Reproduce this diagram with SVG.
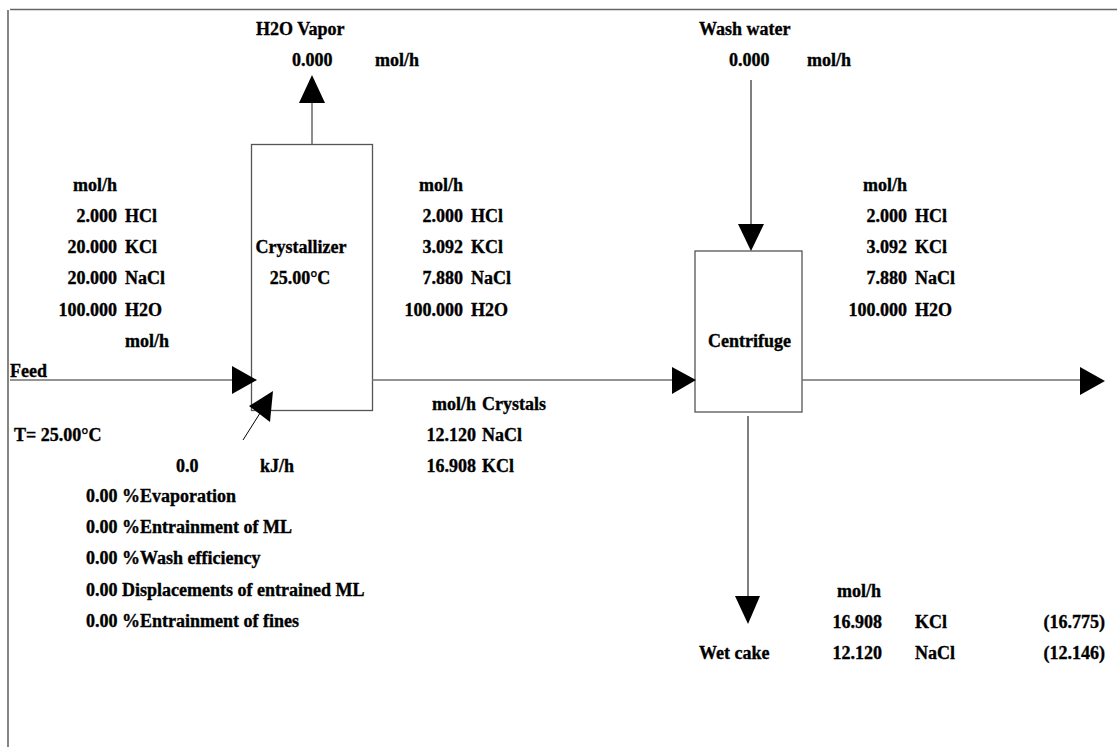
<svg xmlns="http://www.w3.org/2000/svg" width="1117" height="747" viewBox="0 0 1117 747">
<style>
text{font-family:"Liberation Serif","Times New Roman",serif;font-weight:bold;font-size:18px;fill:#000;stroke:#000;stroke-width:0.35}
.e{text-anchor:end}
.m{text-anchor:middle}
.box{fill:#fff;stroke:#555;stroke-width:1.3}
.ln{stroke:#707070;stroke-width:1.6;fill:none}
.tn{stroke:#000;stroke-width:1;fill:none}
.ah{fill:#000;stroke:none}
</style>
<rect x="0" y="0" width="1117" height="747" fill="#fff"/>
<g id="frame">
<line x1="8" y1="10" x2="8" y2="747" stroke="#666" stroke-width="1.6"/>
<line x1="10" y1="9.5" x2="1117" y2="9.5" stroke="#666" stroke-width="1.6"/>
</g>
<g id="crystallizer">
<rect class="box" x="251.5" y="144.5" width="121" height="266"/>
<text class="m" x="301" y="253">Crystallizer</text>
<text class="m" x="300" y="284">25.00°C</text>
</g>
<g id="centrifuge">
<rect class="box" x="695" y="251" width="107" height="161"/>
<text class="m" x="749.5" y="347">Centrifuge</text>
</g>
<g id="connectors">
<line class="ln" x1="312" y1="144" x2="312" y2="102"/>
<polygon class="ah" points="312,75 299,103 325,103"/>
<line class="ln" x1="10" y1="380" x2="233" y2="380"/>
<polygon class="ah" points="232,366 232,394 257,380"/>
<line class="tn" x1="243" y1="440" x2="262" y2="410"/>
<polygon class="ah" points="249,406 273,391 270,422"/>
<line class="ln" x1="372" y1="380" x2="673" y2="380"/>
<polygon class="ah" points="672,367 672,394 696,380"/>
<line class="tn" x1="751" y1="80" x2="751" y2="225"/>
<polygon class="ah" points="738,224 764,224 751,251"/>
<line class="ln" x1="802" y1="380" x2="1081" y2="380"/>
<polygon class="ah" points="1080,367 1080,395 1105,381"/>
<line class="tn" x1="748" y1="416" x2="748" y2="597"/>
<polygon class="ah" points="735,596 760,596 748,624"/>
</g>
<g id="vapor-labels">
<text x="256" y="35">H2O Vapor</text>
<text x="292" y="66">0.000</text>
<text x="375" y="66">mol/h</text>
</g>
<g id="feed-labels">
<text class="e" x="117" y="191">mol/h</text>
<text class="e" x="117" y="222">2.000</text><text x="125" y="222">HCl</text>
<text class="e" x="117" y="253">20.000</text><text x="125" y="253">KCl</text>
<text class="e" x="117" y="284">20.000</text><text x="125" y="284">NaCl</text>
<text class="e" x="117" y="316">100.000</text><text x="125" y="316">H2O</text>
<text x="125" y="347">mol/h</text>
<text x="10" y="377">Feed</text>
<text x="14" y="441">T= 25.00°C</text>
</g>
<g id="heat-labels">
<text x="176" y="472">0.0</text>
<text x="260" y="472">kJ/h</text>
<text x="86" y="502">0.00 %Evaporation</text>
<text x="86" y="533">0.00 %Entrainment of ML</text>
<text x="86" y="564">0.00 %Wash efficiency</text>
<text x="86" y="596">0.00 Displacements of entrained ML</text>
<text x="86" y="627">0.00 %Entrainment of fines</text>
</g>
<g id="slurry-labels">
<text class="e" x="463" y="191">mol/h</text>
<text class="e" x="463" y="222">2.000</text><text x="471" y="222">HCl</text>
<text class="e" x="463" y="253">3.092</text><text x="471" y="253">KCl</text>
<text class="e" x="463" y="284">7.880</text><text x="471" y="284">NaCl</text>
<text class="e" x="463" y="316">100.000</text><text x="471" y="316">H2O</text>
<text class="e" x="476" y="410">mol/h</text><text x="482" y="410">Crystals</text>
<text class="e" x="476" y="441">12.120</text><text x="482" y="441">NaCl</text>
<text class="e" x="476" y="472">16.908</text><text x="482" y="472">KCl</text>
</g>
<g id="wash-labels">
<text x="699" y="35">Wash water</text>
<text x="729" y="66">0.000</text>
<text x="807" y="66">mol/h</text>
</g>
<g id="filtrate-labels">
<text class="e" x="907" y="191">mol/h</text>
<text class="e" x="907" y="222">2.000</text><text x="915" y="222">HCl</text>
<text class="e" x="907" y="253">3.092</text><text x="915" y="253">KCl</text>
<text class="e" x="907" y="284">7.880</text><text x="915" y="284">NaCl</text>
<text class="e" x="907" y="316">100.000</text><text x="915" y="316">H2O</text>
</g>
<g id="cake-labels">
<text class="e" x="881" y="597">mol/h</text>
<text class="e" x="882" y="628">16.908</text><text x="915" y="628">KCl</text><text class="e" x="1105" y="628">(16.775)</text>
<text x="699" y="659">Wet cake</text>
<text class="e" x="882" y="659">12.120</text><text x="915" y="659">NaCl</text><text class="e" x="1105" y="659">(12.146)</text>
</g>
</svg>
